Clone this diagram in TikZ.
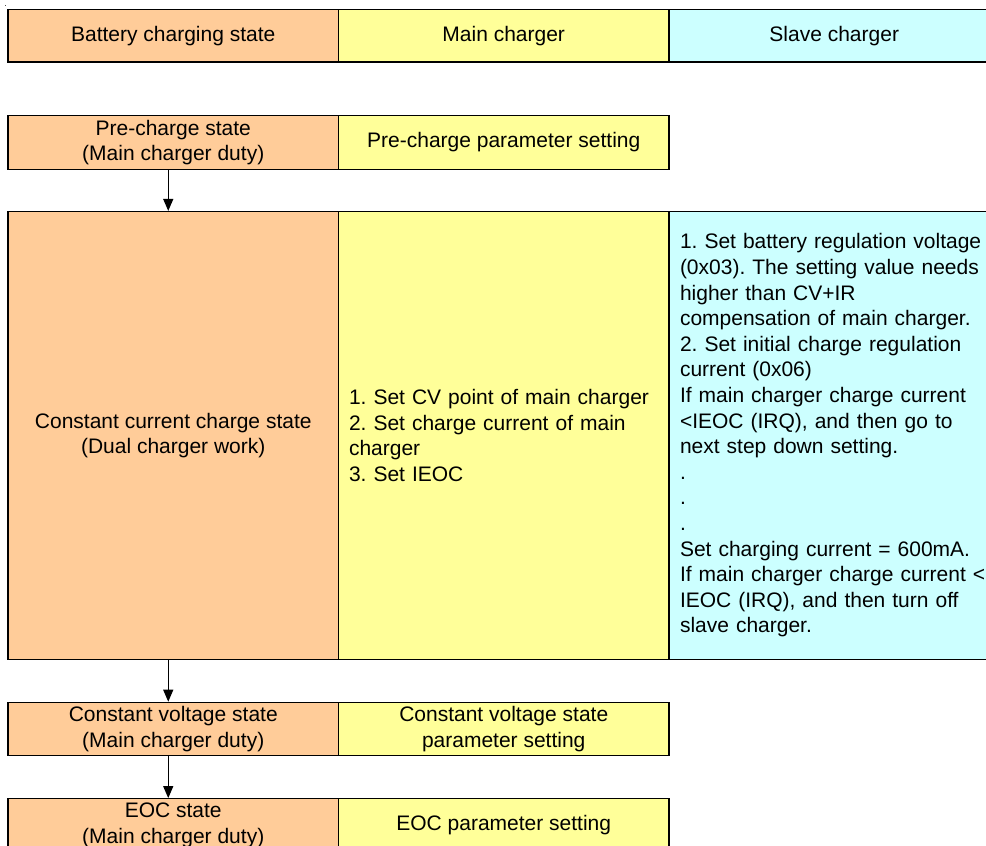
\documentclass[tikz,border=0pt]{standalone}
\usepackage{fontspec}
\setmainfont{Liberation Sans}
\usetikzlibrary{arrows.meta}
\definecolor{corange}{HTML}{FFCC99}
\definecolor{cyellow}{HTML}{FFFF99}
\definecolor{ccyan}{HTML}{CCFFFF}
\tikzset{
  cell/.style={draw=black, line width=1.2pt, rectangle, inner sep=0pt,
    minimum width=330.5pt, font=\fontsize{21}{25.6}\selectfont\frenchspacing, align=center},
  ocell/.style={cell, fill=corange},
  ycell/.style={cell, fill=cyellow},
  ccell/.style={cell, fill=ccyan},
  lcell/.style={align=left, inner xsep=10.5pt, text width=309.5pt},
  arr/.style={line width=1.2pt, -{Triangle[length=12pt,width=10pt]}}
}
\begin{document}
\begin{tikzpicture}[x=1pt,y=-1pt]
\useasboundingbox (0,0) rectangle (986,846);
\clip (0,0) rectangle (986,846);
\fill[black!70] (4.5,4.5) rectangle (5.5,5.5);
% header row
\node[ocell, minimum height=52.7pt] (h1) at (173.25,35.65) {Battery charging state};
\node[ycell, minimum height=52.7pt] (h2) at (503.75,35.65) {Main charger};
\node[ccell, minimum height=52.7pt] (h3) at (834.25,35.65) {Slave charger};
% pre-charge row
\node[ocell, minimum height=53.6pt] (p1) at (173.25,142.5) {Pre-charge state\\(Main charger duty)};
\node[ycell, minimum height=53.6pt] (p2) at (503.75,142.5) {Pre-charge parameter setting};
% constant current row
\node[ocell, minimum height=447.8pt] (c1) at (173.25,435.4) {Constant current charge state\\(Dual charger work)};
\node[ycell, lcell, minimum height=447.8pt] (c2) at (503.75,435.4) {1. Set CV point of main charger\\2. Set charge current of main\\charger\\3. Set IEOC};
\node[ccell, align=left, inner xsep=11pt, text width=308.5pt, minimum height=447.8pt] (c3) at (834.25,435.4) {1. Set battery regulation voltage\\(0x03). The setting value needs\\higher than CV+IR\\compensation of main charger.\\2. Set initial charge regulation\\current (0x06)\\If main charger charge current\\<IEOC (IRQ), and then go to\\next step down setting.\\.\\.\\.\\Set charging current = 600mA.\\If main charger charge current <\\IEOC (IRQ), and then turn off\\slave charger.};
% constant voltage row
\node[ocell, minimum height=53pt] (v1) at (173.25,728.8) {Constant voltage state\\(Main charger duty)};
\node[ycell, minimum height=53pt] (v2) at (503.75,728.8) {Constant voltage state\\parameter setting};
% EOC row
\node[ocell, minimum height=53.3pt] (e1) at (173.25,825.35) {EOC state\\(Main charger duty)};
\node[ycell, minimum height=53.3pt] (e2) at (503.75,825.35) {EOC parameter setting};
% arrows
\draw[arr] ([xshift=-5pt]p1.south) -- ([xshift=-5pt]c1.north);
\draw[arr] ([xshift=-5pt]c1.south) -- ([xshift=-5pt]v1.north);
\draw[arr] ([xshift=-5pt]v1.south) -- ([xshift=-5pt]e1.north);
\end{tikzpicture}
\end{document}
